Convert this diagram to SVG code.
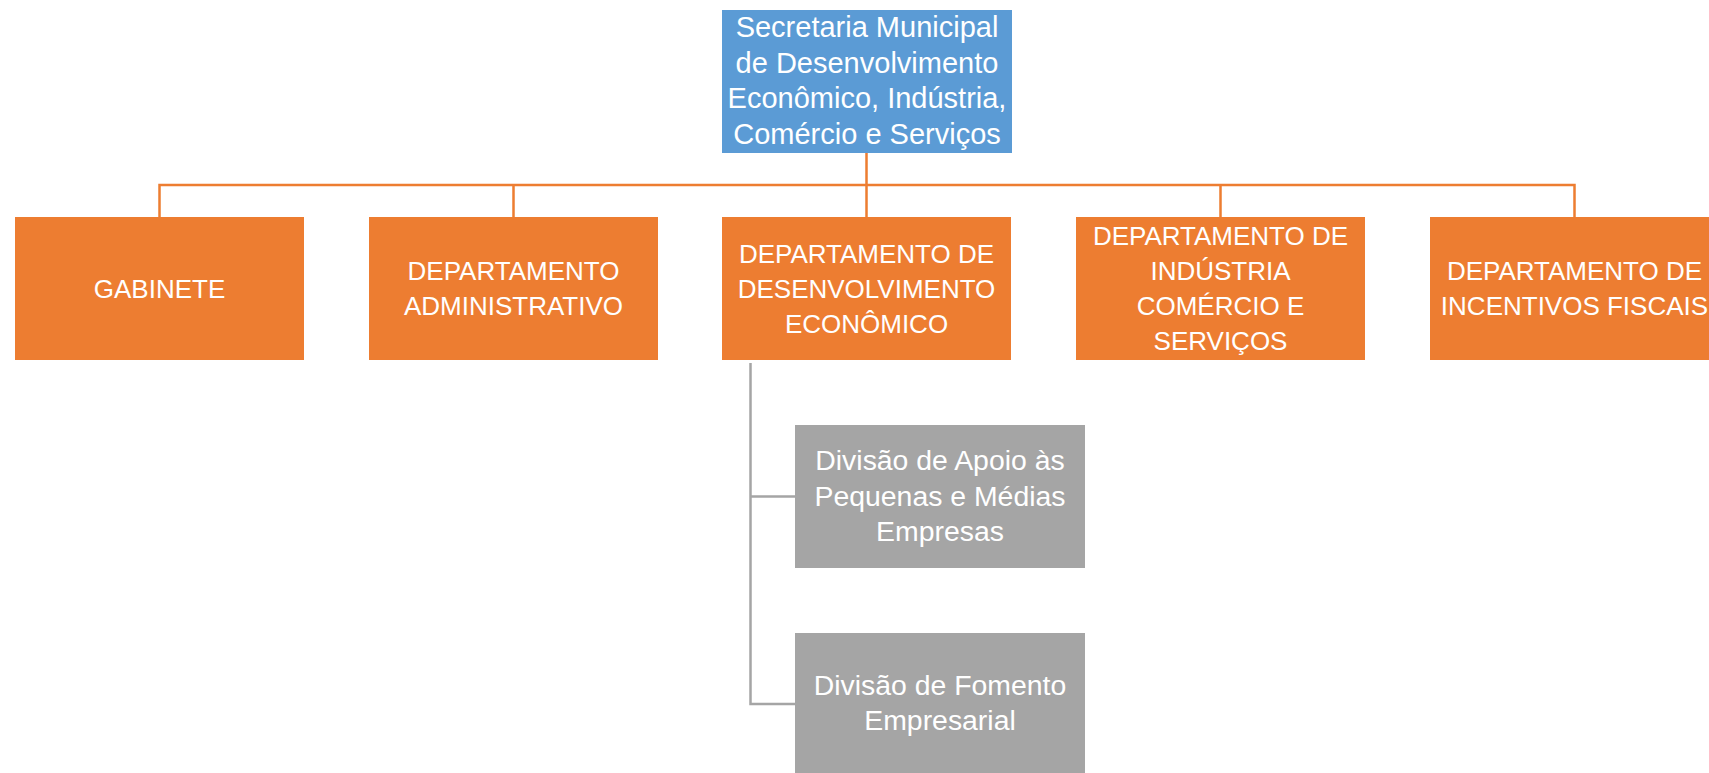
<svg xmlns="http://www.w3.org/2000/svg" width="1709" height="773" viewBox="0 0 1709 773">
<style>
text{font-family:"Liberation Sans",Arial,sans-serif;fill:#fff;text-anchor:middle}
.top{fill:#5B9BD5}
.dep{fill:#ED7D31}
.div{fill:#A5A5A5}
.t29{font-size:29px}
.t28{font-size:28.4px}
.t25{font-size:26px}
.oc{stroke:#ED7D31;stroke-width:2.5;fill:none}
.gc{stroke:#A5A5A5;stroke-width:2.5;fill:none}
</style>
<rect width="1709" height="773" fill="#fff"/>
<g id="connectors">
<path class="oc" d="M866.5 153V185M159.5 217V185H1574.5V217M513.5 185V217M866.5 185V217M1220.5 185V217"/>
<path class="gc" d="M750.5 363V704H795M750.5 496.5H795"/>
</g>
<g id="secretaria">
<rect class="top" x="722" y="10" width="290" height="143"/>
<text class="t29" x="867" y="37">Secretaria Municipal</text>
<text class="t29" x="867" y="72.5">de Desenvolvimento</text>
<text class="t29" x="867" y="108">Econômico, Indústria,</text>
<text class="t29" x="867" y="143.5">Comércio e Serviços</text>
</g>
<g id="gabinete">
<rect class="dep" x="15" y="217" width="289" height="143"/>
<text class="t25" x="159.5" y="297.5">GABINETE</text>
</g>
<g id="dep-administrativo">
<rect class="dep" x="369" y="217" width="289" height="143"/>
<text class="t25" x="513.5" y="280">DEPARTAMENTO</text>
<text class="t25" x="513.5" y="315">ADMINISTRATIVO</text>
</g>
<g id="dep-desenvolvimento">
<rect class="dep" x="722" y="217" width="289" height="143"/>
<text class="t25" x="866.5" y="263">DEPARTAMENTO DE</text>
<text class="t25" x="866.5" y="298">DESENVOLVIMENTO</text>
<text class="t25" x="866.5" y="333">ECONÔMICO</text>
</g>
<g id="dep-industria">
<rect class="dep" x="1076" y="217" width="289" height="143"/>
<text class="t25" x="1220.5" y="245">DEPARTAMENTO DE</text>
<text class="t25" x="1220.5" y="280">INDÚSTRIA</text>
<text class="t25" x="1220.5" y="315">COMÉRCIO E</text>
<text class="t25" x="1220.5" y="350">SERVIÇOS</text>
</g>
<g id="dep-incentivos">
<rect class="dep" x="1430" y="217" width="289" height="143"/>
<text class="t25" x="1574.5" y="280">DEPARTAMENTO DE</text>
<text class="t25" x="1574.5" y="315">INCENTIVOS FISCAIS</text>
</g>
<g id="div-apoio">
<rect class="div" x="795" y="425" width="290" height="143"/>
<text class="t28" x="940" y="470">Divisão de Apoio às</text>
<text class="t28" x="940" y="505.5">Pequenas e Médias</text>
<text class="t28" x="940" y="541">Empresas</text>
</g>
<g id="div-fomento">
<rect class="div" x="795" y="633" width="290" height="143"/>
<text class="t28" x="940" y="695">Divisão de Fomento</text>
<text class="t28" x="940" y="730">Empresarial</text>
</g>
</svg>
